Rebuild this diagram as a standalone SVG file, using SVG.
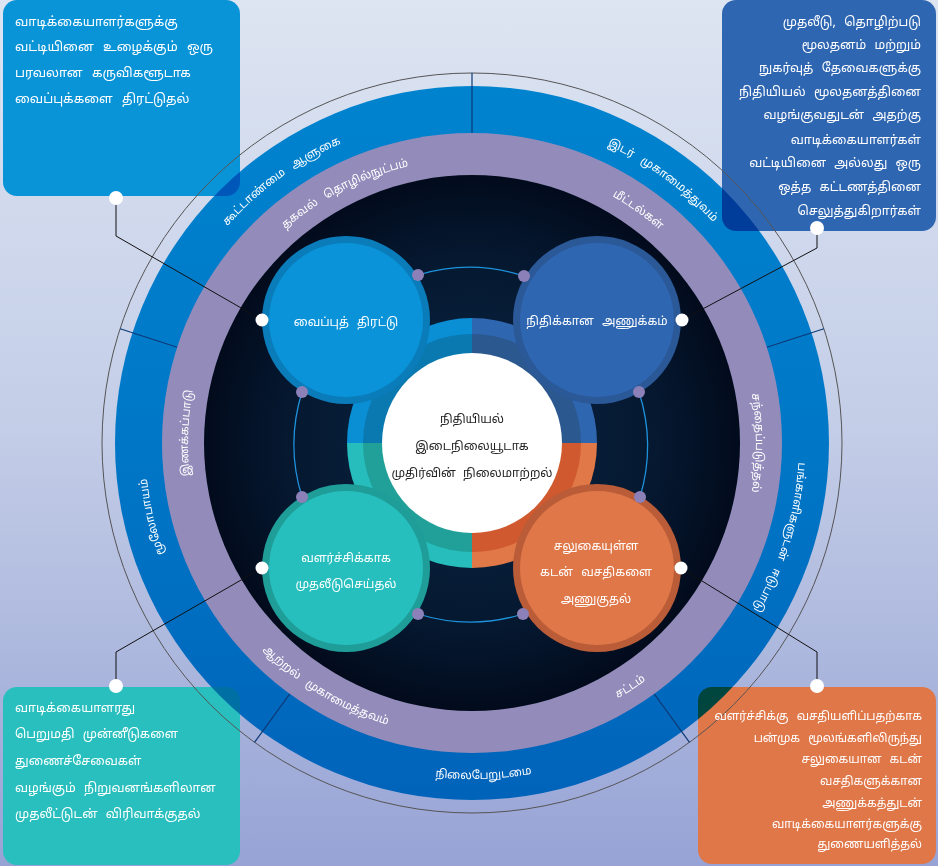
<svg xmlns="http://www.w3.org/2000/svg" width="938" height="866" viewBox="0 0 938 866">
<defs>
<linearGradient id="bg" x1="0" y1="0" x2="0" y2="1">
<stop offset="0" stop-color="#dde5f2"/>
<stop offset="0.5" stop-color="#c3cde7"/>
<stop offset="1" stop-color="#97a3d5"/>
</linearGradient>
<radialGradient id="dark" cx="0.5" cy="0.5" r="0.5">
<stop offset="0" stop-color="#0b2442"/>
<stop offset="0.7" stop-color="#051830"/>
<stop offset="1" stop-color="#020b1c"/>
</radialGradient>
<path id="p1" d="M149.0,391.9 A327,327 0 0 1 523.1,120.0"/>
<path id="p2" d="M420.9,120.0 A327,327 0 0 1 795.0,391.9"/>
<path id="p3" d="M298.7,720.3 A327,327 0 0 1 194.7,269.7"/>
<path id="p4" d="M760.7,289.5 A327,327 0 0 1 625.5,731.7"/>
<path id="p5" d="M242.8,688.7 A336,336 0 0 0 717.7,672.2"/>
<path id="p6" d="M201.9,355.2 A284,284 0 0 1 559.8,172.9"/>
<path id="p7" d="M425.1,162.9 A284,284 0 0 1 752.1,396.1"/>
<path id="p8" d="M264.3,636.7 A284,284 0 0 1 278.3,235.3"/>
<path id="p9" d="M672.8,242.2 A284,284 0 0 1 672.8,643.8"/>
<path id="p10" d="M186.7,514.1 A294,294 0 0 0 543.1,728.3"/>
<path id="p11" d="M410.9,730.6 A294,294 0 0 0 759.6,504.1"/>
</defs>
<style>
text{font-family:"Noto Sans","Noto Sans Tamil","DejaVu Sans",sans-serif}
.bx{fill:#fff}
.tl{font-size:12.8px;word-spacing:6px}
.tr{font-size:12.5px;word-spacing:5px}
.bl{font-size:12.5px;word-spacing:5px}
.br{font-size:11.8px;word-spacing:5px}
.rl{font-size:11.3px;fill:#fff;word-spacing:6px}
.sat{font-size:12px;fill:#fff;text-anchor:middle;word-spacing:5px}
.ctr{font-size:12px;fill:#1e1e1e;text-anchor:middle;word-spacing:4px}
.div{stroke:#0d3a78;stroke-width:1.2}
.arc{fill:none;stroke:#1e92dc;stroke-width:1.3}
.pd{fill:#8c80b8}
.wd{fill:#fff}
.ln{fill:none;stroke:#111;stroke-width:1}
</style>
<rect width="938" height="866" fill="url(#bg)"/>

<g id="boxes">
<rect x="3" y="0" width="237" height="196" rx="14" fill="#0a94d8"/>
<rect x="722" y="0" width="214" height="231" rx="14" fill="#2f66b1"/>
<rect x="3" y="687" width="237" height="178" rx="14" fill="#28bfbe"/>
<rect x="698" y="687" width="238" height="177" rx="14" fill="#e07749"/>
</g>

<g id="rings">
<circle cx="472" cy="443" r="357" fill="#0095dc" style="mix-blend-mode:multiply"/>
<circle cx="472" cy="443" r="370" fill="none" stroke="#555" stroke-width="1"/>
<line class="div" x1="472" y1="133" x2="472" y2="73"/>
<line class="div" x1="766.8" y1="347.2" x2="823.9" y2="328.7"/>
<line class="div" x1="177.2" y1="347.2" x2="120.1" y2="328.7"/>
<line class="div" x1="289.8" y1="693.8" x2="254.5" y2="742.3"/>
<line class="div" x1="654.2" y1="693.8" x2="689.5" y2="742.3"/>
<circle cx="472" cy="443" r="310" fill="#938bba"/>
<circle cx="472" cy="443" r="268" fill="url(#dark)"/>
</g>

<g id="ring-labels">
<text class="rl"><textPath href="#p1" startOffset="50%" text-anchor="middle">கூட்டாண்மை ஆளுகை</textPath></text>
<text class="rl"><textPath href="#p2" startOffset="50%" text-anchor="middle">இடர் முகாமைத்துவம்</textPath></text>
<text class="rl"><textPath href="#p3" startOffset="50%" text-anchor="middle">மூலோபாயம்</textPath></text>
<text class="rl"><textPath href="#p4" startOffset="50%" text-anchor="middle">பங்காளிகளுடன் ஈடுபாடு</textPath></text>
<text class="rl"><textPath href="#p5" startOffset="50%" text-anchor="middle">நிலைபேறுடமை</textPath></text>
<text class="rl"><textPath href="#p6" startOffset="50%" text-anchor="middle">தகவல் தொழில்நுட்பம்</textPath></text>
<text class="rl"><textPath href="#p7" startOffset="50%" text-anchor="middle">மீட்டல்கள்</textPath></text>
<text class="rl"><textPath href="#p8" startOffset="50%" text-anchor="middle">இணக்கப்பாடு</textPath></text>
<text class="rl"><textPath href="#p9" startOffset="50%" text-anchor="middle">சந்தைப்படுத்தல்</textPath></text>
<text class="rl"><textPath href="#p10" startOffset="50%" text-anchor="middle">ஆற்றல் முகாமைத்தவம்</textPath></text>
<text class="rl"><textPath href="#p11" startOffset="50%" text-anchor="middle">சட்டம்</textPath></text>
</g>

<g id="connectors">
<path class="arc" d="M418,275 A177,177 0 0 1 524,276"/>
<path class="arc" d="M639,392 A177,177 0 0 1 640,497"/>
<path class="arc" d="M523,614 A177,177 0 0 1 418,614"/>
<path class="arc" d="M302,497 A177,177 0 0 1 302,392"/>
<polyline class="ln" points="116,198 116,236 262,320"/>
<polyline class="ln" points="817,228 817,248 682,320"/>
<polyline class="ln" points="116,686 116,652 262,568"/>
<polyline class="ln" points="817,686 817,652 681,568"/>
</g>

<g id="core">
<path d="M472,443 L347,443 A125,125 0 0 1 472,318 Z" fill="#0a8fd5"/>
<path d="M472,443 L472,318 A125,125 0 0 1 597,443 Z" fill="#2f66b0"/>
<path d="M472,443 L597,443 A125,125 0 0 1 472,568 Z" fill="#e07848"/>
<path d="M472,443 L472,568 A125,125 0 0 1 347,443 Z" fill="#27bdbc"/>
<path d="M472,443 L363,443 A109,109 0 0 1 472,334 Z" fill="#0a79b0"/>
<path d="M472,443 L472,334 A109,109 0 0 1 581,443 Z" fill="#2c5890"/>
<path d="M472,443 L581,443 A109,109 0 0 1 472,552 Z" fill="#d0592f"/>
<path d="M472,443 L472,552 A109,109 0 0 1 363,443 Z" fill="#21a099"/>
<circle cx="472" cy="443" r="90" fill="#fff"/>
<text class="ctr" x="472" y="423">நிதியியல்</text>
<text class="ctr" x="472" y="450">இடைநிலையூடாக</text>
<text class="ctr" x="472" y="477">முதிர்வின் நிலைமாற்றல்</text>
</g>

<g id="n-deposit">
<circle cx="346" cy="320" r="84" fill="#0a7cba"/>
<circle cx="346" cy="320" r="77" fill="#0a93d8"/>
<text class="sat" x="346" y="326">வைப்புத் திரட்டு</text>
</g>
<g id="n-access">
<circle cx="597" cy="320" r="84" fill="#2b5896"/>
<circle cx="597" cy="320" r="77" fill="#2f66b2"/>
<text class="sat" x="597" y="325">நிதிக்கான அணுக்கம்</text>
</g>
<g id="n-invest">
<circle cx="346" cy="568" r="84" fill="#1f9e99"/>
<circle cx="346" cy="568" r="77" fill="#27bfbe"/>
<text class="sat" x="346" y="562">வளர்ச்சிக்காக</text>
<text class="sat" x="346" y="588">முதலீடுசெய்தல்</text>
</g>
<g id="n-credit">
<circle cx="597" cy="568" r="84" fill="#b95c37"/>
<circle cx="597" cy="568" r="77" fill="#e07749"/>
<text class="sat" x="596" y="550">சலுகையுள்ள</text>
<text class="sat" x="596" y="576">கடன் வசதிகளை</text>
<text class="sat" x="596" y="603">அணுகுதல்</text>
</g>

<g id="dots">
<circle class="pd" cx="418" cy="275" r="6"/>
<circle class="pd" cx="524" cy="276" r="6"/>
<circle class="pd" cx="302" cy="392" r="6"/>
<circle class="pd" cx="639" cy="392" r="6"/>
<circle class="pd" cx="302" cy="497" r="6"/>
<circle class="pd" cx="640" cy="497" r="6"/>
<circle class="pd" cx="418" cy="614" r="6"/>
<circle class="pd" cx="523" cy="614" r="6"/>
<circle class="wd" cx="262" cy="320" r="6.5"/>
<circle class="wd" cx="682" cy="320" r="6.5"/>
<circle class="wd" cx="262" cy="568" r="6.5"/>
<circle class="wd" cx="681" cy="568" r="6.5"/>
<circle class="wd" cx="116" cy="198" r="7"/>
<circle class="wd" cx="817" cy="228" r="7"/>
<circle class="wd" cx="116" cy="686" r="7"/>
<circle class="wd" cx="817" cy="686" r="7"/>
</g>

<g id="box-tl">
<text class="bx tl" x="15" y="26">வாடிக்கையாளர்களுக்கு</text>
<text class="bx tl" x="15" y="51">வட்டியினை உழைக்கும் ஒரு</text>
<text class="bx tl" x="15" y="77">பரவலான கருவிகளூடாக</text>
<text class="bx tl" x="15" y="103">வைப்புக்களை திரட்டுதல்</text>
</g>
<g id="box-tr" text-anchor="end">
<text class="bx tr" x="921" y="26">முதலீடு, தொழிற்படு</text>
<text class="bx tr" x="921" y="49">மூலதனம் மற்றும்</text>
<text class="bx tr" x="921" y="72">நுகர்வுத் தேவைகளுக்கு</text>
<text class="bx tr" x="921" y="96">நிதியியல் மூலதனத்தினை</text>
<text class="bx tr" x="921" y="119">வழங்குவதுடன் அதற்கு</text>
<text class="bx tr" x="921" y="144">வாடிக்கையாளர்கள்</text>
<text class="bx tr" x="921" y="167">வட்டியினை அல்லது ஒரு</text>
<text class="bx tr" x="921" y="191">ஒத்த கட்டணத்தினை</text>
<text class="bx tr" x="921" y="215">செலுத்துகிறார்கள்</text>
</g>
<g id="box-bl">
<text class="bx bl" x="15" y="712">வாடிக்கையாளரது</text>
<text class="bx bl" x="15" y="738">பெறுமதி முன்னீடுகளை</text>
<text class="bx bl" x="15" y="765">துணைச்சேவைகள்</text>
<text class="bx bl" x="15" y="792">வழங்கும் நிறுவனங்களிலான</text>
<text class="bx bl" x="15" y="818">முதலீட்டுடன் விரிவாக்குதல்</text>
</g>
<g id="box-br" text-anchor="end">
<text class="bx br" x="922" y="720">வளர்ச்சிக்கு வசதியளிப்பதற்காக</text>
<text class="bx br" x="922" y="742">பன்முக மூலங்களிலிருந்து</text>
<text class="bx br" x="922" y="763">சலுகையான கடன்</text>
<text class="bx br" x="922" y="785">வசதிகளுக்கான</text>
<text class="bx br" x="922" y="807">அணுக்கத்துடன்</text>
<text class="bx br" x="922" y="828">வாடிக்கையாளர்களுக்கு</text>
<text class="bx br" x="922" y="848">துணையளித்தல்</text>
</g>
</svg>
